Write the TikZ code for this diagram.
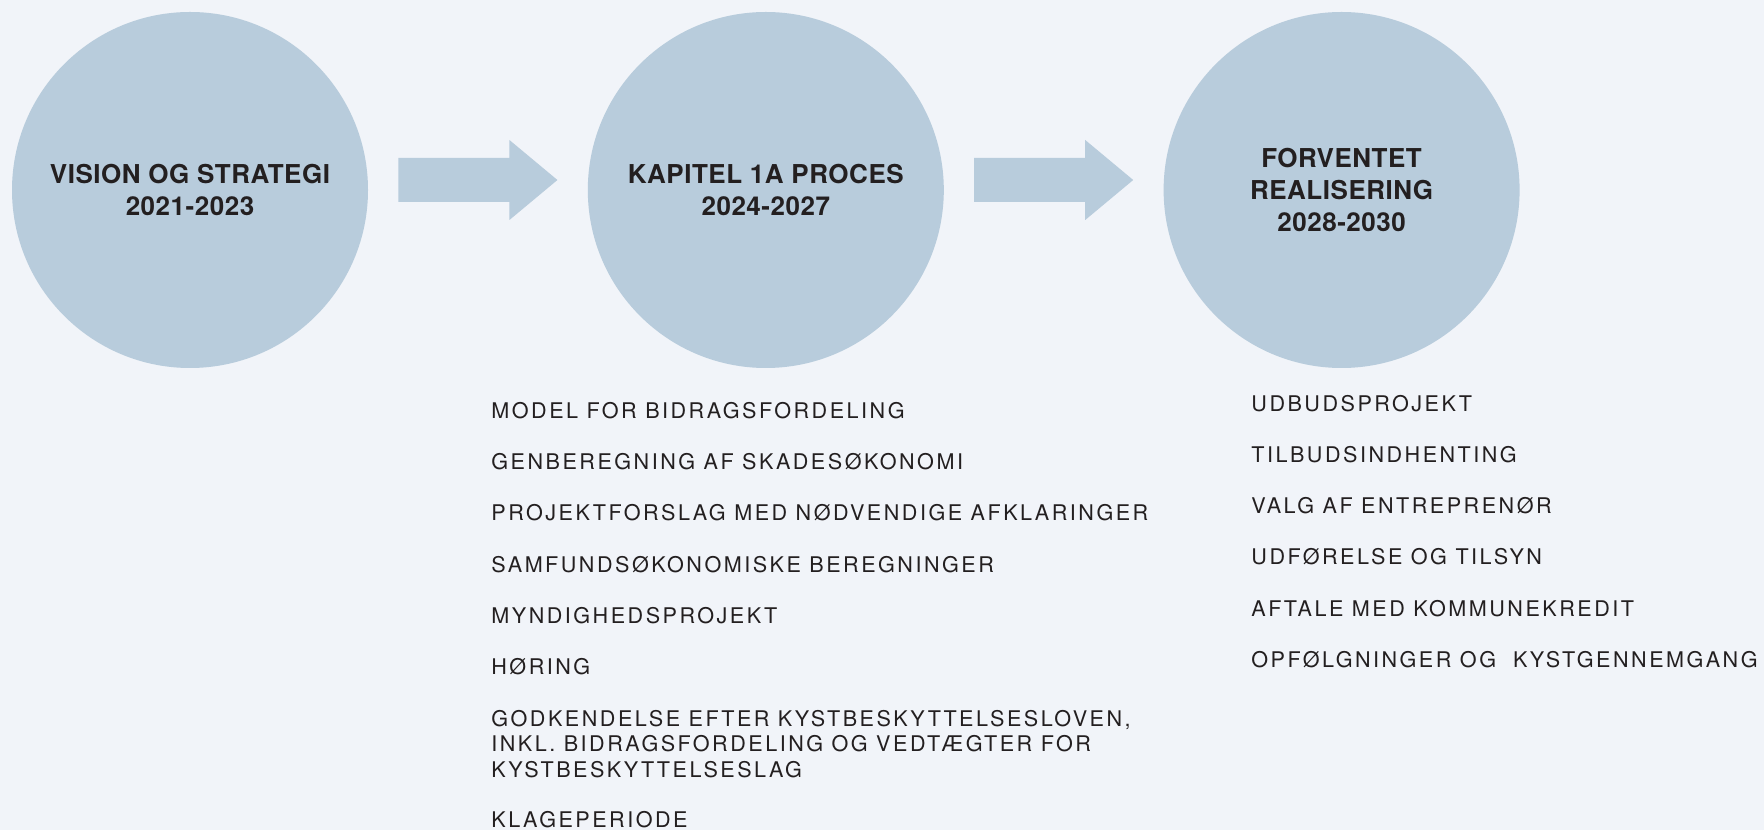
\documentclass[tikz,border=0pt]{standalone}
\usepackage{fontspec}
\setmainfont{TeX Gyre Heros}
\usetikzlibrary{positioning,calc}
\definecolor{baggrund}{HTML}{F1F4F9}
\definecolor{cirkelblaa}{HTML}{B8CCDC}
\definecolor{tekstgraa}{HTML}{231F20}
\newcommand{\blokpil}[2]{%
  \coordinate (m#1) at ($(#1)!0.5!(#2)+(0,10)$);
  \fill[pil] ($(m#1)+(-79.5,-22)$) -- ++(111,0) -- ++(0,-18) -- ($(m#1)+(79.5,0)$)
    -- ($(m#1)+(31.5,40)$) -- ++(0,-18) -- ($(m#1)+(-79.5,22)$) -- cycle;}
\tikzset{
  fase/.style={circle,fill=cirkelblaa,minimum size=178pt,inner sep=0pt,align=center,text=tekstgraa,
               font=\fontsize{13}{16}\selectfont\bfseries\addfontfeature{LetterSpace=2}},
  punkt/.style={anchor=base west,inner sep=0pt,align=left,text=tekstgraa,
                font=\fontsize{10.8}{12.75}\selectfont\addfontfeature{LetterSpace=11.5}},
  pil/.style={fill=cirkelblaa},
}
\begin{document}
\begin{tikzpicture}[x=0.5pt,y=0.5pt]
  \fill[baggrund] (0,0) rectangle (1764,830);
  \useasboundingbox (0,0) rectangle (1764,830);
  % faser
  \node[fase] (f1) at (190,640) {VISION OG STRATEGI\\2021-2023};
  \node[fase,right=109.5pt of f1] (f2) {KAPITEL 1A PROCES\\2024-2027};
  \node[fase,right=109.5pt of f2] (f3) {FORVENTET\\REALISERING\\2028-2030};
  \blokpil{f1}{f2}
  \blokpil{f2}{f3}
  % kapitel 1a
  \node[punkt] (p1) at (491,411) {MODEL FOR BIDRAGSFORDELING};
  \node[punkt] (p2) at (491,360) {GENBEREGNING AF SKADESØKONOMI};
  \node[punkt] (p3) at (491,309) {PROJEKTFORSLAG MED NØDVENDIGE AFKLARINGER};
  \node[punkt] (p4) at (491,258) {SAMFUNDSØKONOMISKE BEREGNINGER};
  \node[punkt] (p5) at (491,207) {MYNDIGHEDSPROJEKT};
  \node[punkt] (p6) at (491,156) {HØRING};
  \node[punkt] (p7) at (491,53) {GODKENDELSE EFTER KYSTBESKYTTELSESLOVEN,\\INKL. BIDRAGSFORDELING OG VEDTÆGTER FOR\\KYSTBESKYTTELSESLAG};
  \node[punkt] (p8) at (491,3) {KLAGEPERIODE};
  % realisering
  \node[punkt] (r1) at (1251,418) {UDBUDSPROJEKT};
  \node[punkt] (r2) at (1251,367) {TILBUDSINDHENTING};
  \node[punkt] (r3) at (1251,316) {VALG AF ENTREPRENØR};
  \node[punkt] (r4) at (1251,265) {UDFØRELSE OG TILSYN};
  \node[punkt] (r5) at (1251,214) {AFTALE MED KOMMUNEKREDIT};
  \node[punkt] (r6) at (1251,163) {OPFØLGNINGER OG \ KYSTGENNEMGANG};
\end{tikzpicture}
\end{document}
